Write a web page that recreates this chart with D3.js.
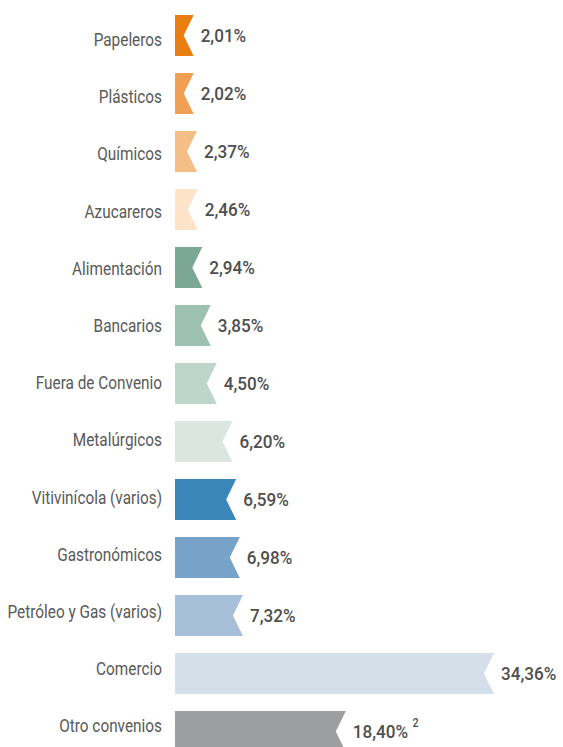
<!DOCTYPE html>
<html><head><meta charset="utf-8">
<script src="https://cdn.jsdelivr.net/npm/d3@7"></script>
<style>body{margin:0;background:#fff;}svg{display:block;}</style>
</head><body>
<svg id="c" width="563" height="747"></svg>
<script>
const categories = ["Papeleros","Plásticos","Químicos","Azucareros","Alimentación","Bancarios","Fuera de Convenio","Metalúrgicos","Vitivinícola (varios)","Gastronómicos","Petróleo y Gas (varios)","Comercio","Otro convenios"];
const values = [2.01,2.02,2.37,2.46,2.94,3.85,4.50,6.20,6.59,6.98,7.32,34.36,18.40];
const valueLabels = ["2,01%","2,02%","2,37%","2,46%","2,94%","3,85%","4,50%","6,20%","6,59%","6,98%","7,32%","34,36%","18,40%"];
const footnotes = ["","","","","","","","","","","","","2"];
const colors = ["#E87F10","#F0A052","#F5BE86","#FDE3C7","#7BA797","#9CC0B1","#BED5CC","#DCE6E1","#3B86B8","#77A3C8","#A8BFDA","#D4DFEA","#9D9EA0"];

const svg = d3.select("#c");
const x0 = 175;
const x = d3.scaleLinear().domain([0, 34.36]).range([0, 319]);
const y = d3.scaleBand().domain(categories).range([15, 752]).paddingInner(0.293).paddingOuter(0);
const yLab = d3.scalePoint().domain(categories).range([41, 727.5]);
const notch = 10;
const data = categories.map((c,i)=>({c, v:values[i], l:valueLabels[i], f:footnotes[i], col:colors[i]}));

svg.selectAll("path.bar").data(data).enter().append("path")
  .attr("fill", d=>d.col)
  .attr("d", d=>{
    const t=y(d.c), h=y.bandwidth(), w=x(d.v);
    return `M${x0},${t}H${x0+w}L${x0+w-notch},${t+h/2}L${x0+w},${t+h}H${x0}Z`;
  });

svg.selectAll("text.cat").data(data).enter().append("text")
  .attr("class","cat")
  .attr("transform", d=>`translate(162,${yLab(d.c)}) scale(0.83,1)`)
  .attr("text-anchor","end").attr("dominant-baseline","middle")
  .attr("font-family","Roboto").attr("font-size",18.5).attr("fill","#595959")
  .text(d=>d.c);

const vt = svg.selectAll("text.val").data(data).enter().append("text")
  .attr("class","val")
  .attr("transform", d=>`translate(${x0+x(d.v)+7},${y(d.c)+y.bandwidth()/2+1.5}) scale(0.9,1)`)
  .attr("dominant-baseline","middle")
  .attr("font-family","Roboto").attr("font-weight",500).attr("font-size",19).attr("fill","#4f4f4f");
vt.append("tspan").text(d=>d.l);
vt.filter(d=>d.f).append("tspan").attr("dx",5).attr("dy",-9).attr("font-size",12).text(d=>d.f);
</script>
</body></html>
